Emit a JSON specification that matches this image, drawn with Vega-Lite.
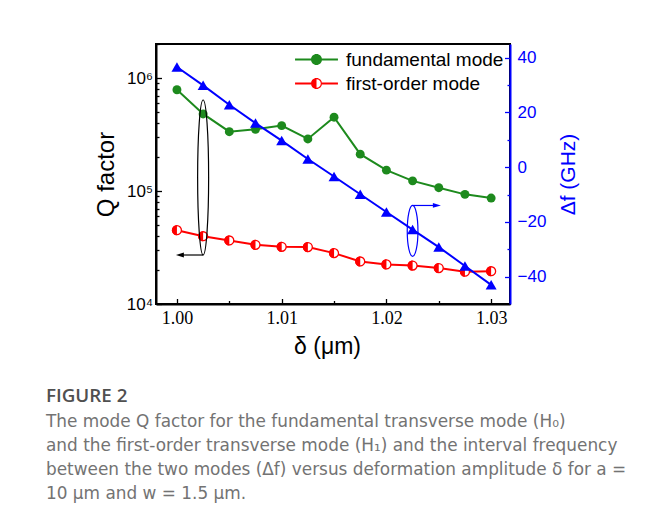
{
  "$schema": "https://vega.github.io/schema/vega-lite/v6.json",
  "width": 354,
  "height": 260,
  "autosize": {"type": "none"},
  "padding": {"left": 156, "top": 44, "right": 144, "bottom": 218},
  "background": "white",
  "config": {
    "view": {"stroke": "black", "strokeWidth": 2},
    "axis": {
      "grid": false,
      "domainWidth": 2,
      "domainColor": "black",
      "tickColor": "black",
      "tickWidth": 1.3,
      "labelFont": "Liberation Sans",
      "titleFont": "Liberation Sans",
      "titleFontWeight": "normal",
      "labelColor": "black",
      "titleColor": "black",
      "labelFlush": false,
      "labelOverlap": false
    }
  },
  "title": {
    "text": "FIGURE 2",
    "subtitle": [
      "The mode Q factor for the fundamental transverse mode (H₀)",
      "and the first-order transverse mode (H₁) and the interval frequency",
      "between the two modes (Δf) versus deformation amplitude δ for a =",
      "10 μm and w = 1.5 μm."
    ],
    "orient": "bottom",
    "anchor": "start",
    "frame": "group",
    "dx": -110,
    "offset": 28,
    "font": "Open Sans",
    "fontSize": 18.8,
    "fontWeight": 600,
    "color": "#505050",
    "subtitleFont": "DejaVu Sans",
    "subtitleFontSize": 16.9,
    "subtitleColor": "#737373",
    "subtitleLineHeight": 24,
    "subtitlePadding": 9
  },
  "datasets": {
    "fundamental": [
      {"delta": 1.0, "q": 787000},
      {"delta": 1.0025, "q": 481000},
      {"delta": 1.005, "q": 335000},
      {"delta": 1.0075, "q": 352000},
      {"delta": 1.01, "q": 379000},
      {"delta": 1.0125, "q": 289000},
      {"delta": 1.015, "q": 450000},
      {"delta": 1.0175, "q": 212000},
      {"delta": 1.02, "q": 153000},
      {"delta": 1.0225, "q": 123000},
      {"delta": 1.025, "q": 107000},
      {"delta": 1.0275, "q": 93400},
      {"delta": 1.03, "q": 86600}
    ],
    "firstOrder": [
      {"delta": 1.0, "q": 45000},
      {"delta": 1.0025, "q": 39800},
      {"delta": 1.005, "q": 36500},
      {"delta": 1.0075, "q": 33400},
      {"delta": 1.01, "q": 32100},
      {"delta": 1.0125, "q": 31900},
      {"delta": 1.015, "q": 28200},
      {"delta": 1.0175, "q": 23800},
      {"delta": 1.02, "q": 22400},
      {"delta": 1.0225, "q": 21900},
      {"delta": 1.025, "q": 20800},
      {"delta": 1.0275, "q": 19300},
      {"delta": 1.03, "q": 19500}
    ],
    "spacing": [
      {"delta": 1.0, "df": 36.6},
      {"delta": 1.0025, "df": 29.9},
      {"delta": 1.005, "df": 22.8},
      {"delta": 1.0075, "df": 16.1},
      {"delta": 1.01, "df": 9.7},
      {"delta": 1.0125, "df": 3.0},
      {"delta": 1.015, "df": -3.4},
      {"delta": 1.0175, "df": -9.9},
      {"delta": 1.02, "df": -16.4},
      {"delta": 1.0225, "df": -22.8},
      {"delta": 1.025, "df": -29.2},
      {"delta": 1.0275, "df": -36.1},
      {"delta": 1.03, "df": -43.0}
    ],
    "seriesKeys": [
      {"series": "fundamental mode"},
      {"series": "first-order mode"}
    ],
    "leftLoop": [{"delta": 1.0025, "q": 131700}],
    "leftArrow": [{"delta": 1.0025, "delta2": 1.0004, "q": 27140}],
    "leftTip": [{"delta": 0.9999, "q": 27140}],
    "rightLoop": [{"delta": 1.0225, "df": -23.3}],
    "rightArrow": [{"delta": 1.0225, "delta2": 1.0245, "df": -14.0}],
    "rightTip": [{"delta": 1.0252, "df": -14.0}]
  },
  "layer": [
    {
      "encoding": {
        "x": {
          "field": "delta", "type": "quantitative",
          "scale": {"domain": [0.998, 1.0318], "nice": false, "zero": false},
          "axis": {
            "orient": "bottom",
            "values": [1.0, 1.01, 1.02, 1.03],
            "format": ".2f",
            "labelFont": "Liberation Serif",
            "labelFontSize": 18,
            "labelPadding": 11,
            "tickSize": -5.5,
            "title": "δ (μm)",
            "titleFontSize": 23,
            "titlePadding": 8,
            "titleX": 171
          }
        },
        "y": {
          "field": "q", "type": "quantitative",
          "scale": {"type": "log", "domain": [10000, 2000000], "nice": false},
          "axis": {
            "orient": "left",
            "values": [10000, 100000, 1000000],
            "labelExpr": "datum.value >= 1000000 ? '10⁶' : datum.value >= 100000 ? '10⁵' : '10⁴'",
            "labelFontSize": 17,
            "labelPadding": 9,
            "tickSize": -5.5,
            "title": "Q factor",
            "titleFontSize": 24,
            "titlePadding": 8
          }
        }
      },
      "layer": [
        {
          "data": {"name": "fundamental"},
          "mark": {"type": "line", "color": "#1d8a1d", "strokeWidth": 2}
        },
        {
          "data": {"name": "fundamental"},
          "mark": {"type": "point", "filled": true, "color": "#1d8a1d", "size": 80, "opacity": 1}
        },
        {
          "data": {"name": "firstOrder"},
          "mark": {"type": "line", "color": "#ff0000", "strokeWidth": 2}
        },
        {
          "data": {"name": "firstOrder"},
          "mark": {"type": "point", "filled": true, "fill": "white", "stroke": "#ff0000", "strokeWidth": 1.3, "size": 80, "opacity": 1}
        },
        {
          "data": {"name": "firstOrder"},
          "mark": {"type": "point", "filled": true, "fill": "#ff0000", "strokeWidth": 0, "size": 102, "opacity": 1, "shape": "M0,-1A1,1,0,0,0,0,1Z"}
        },
        {
          "data": {"name": "leftLoop"},
          "mark": {"type": "point", "filled": false, "stroke": "black", "strokeWidth": 1.2, "opacity": 1, "size": 24025, "shape": "M0,-1A0.071,1,0,1,1,0,1A0.071,1,0,1,1,0,-1Z"}
        },
        {
          "data": {"name": "leftArrow"},
          "mark": {"type": "rule", "color": "black", "strokeWidth": 1.2},
          "encoding": {"x2": {"field": "delta2"}}
        },
        {
          "data": {"name": "leftTip"},
          "mark": {"type": "point", "filled": true, "fill": "black", "strokeWidth": 0, "opacity": 1, "size": 256, "shape": "M0,0L1,-0.3L1,0.3Z"}
        },
        {
          "data": {"name": "seriesKeys"},
          "mark": {"type": "point", "filled": true, "opacity": 0},
          "encoding": {
            "color": {
              "field": "series", "type": "nominal",
              "scale": {"domain": ["fundamental mode", "first-order mode"], "range": ["#1d8a1d", "#ff0000"]},
              "legend": {
                "title": null,
                "orient": "top-right",
                "offset": 6,
                "padding": 0,
                "labelFont": "Liberation Sans",
                "labelFontSize": 19,
                "labelColor": "black",
                "labelOffset": 20,
                "symbolSize": 121,
                "rowPadding": 4,
                "encode": {
                  "symbols": {
                    "update": {
                      "opacity": {"value": 1},
                      "size": {"value": 121},
                      "strokeWidth": {"value": 0}
                    }
                  }
                }
              }
            },
            "shape": {
              "field": "series", "type": "nominal",
              "scale": {
                "domain": ["fundamental mode", "first-order mode"],
                "range": [
                  "M-3.9,-0.18H3.9V0.18H-3.9Z M-1,0A1,1,0,1,1,1,0A1,1,0,1,1,-1,0Z",
                  "M-3.9,-0.18H-1V0.18H-3.9Z M1,-0.18H3.9V0.18H1Z M0,-1A1,1,0,0,0,0,1Z M0,-1A1,1,0,0,1,0,1L0,0.78A0.78,0.78,0,0,0,0,-0.78Z"
                ]
              }
            }
          }
        }
      ]
    },
    {
      "data": {"name": "fundamental"},
      "mark": {"type": "point", "opacity": 0},
      "encoding": {
        "x": {
          "field": "delta", "type": "quantitative",
          "scale": {"domain": [0.998, 1.0318], "nice": false, "zero": false},
          "axis": {
            "orient": "bottom",
            "values": [1.005, 1.015, 1.025],
            "labels": false,
            "domain": false,
            "tickSize": -3.5,
            "title": null
          }
        },
        "y": {
          "field": "q", "type": "quantitative",
          "scale": {"type": "log", "domain": [10000, 2000000], "nice": false},
          "axis": {
            "orient": "left",
            "values": [20000, 30000, 40000, 50000, 60000, 70000, 80000, 90000, 200000, 300000, 400000, 500000, 600000, 700000, 800000, 900000, 2000000],
            "labels": false,
            "domain": false,
            "tickSize": -3,
            "title": null
          }
        }
      }
    },
    {
      "encoding": {
        "x": {"field": "delta", "type": "quantitative", "scale": {"domain": [0.998, 1.0318], "nice": false, "zero": false}, "axis": null},
        "y": {
          "field": "df", "type": "quantitative",
          "scale": {"domain": [-50, 45], "nice": false, "zero": false},
          "axis": {
            "orient": "right",
            "values": [-40, -20, 0, 20, 40],
            "domainColor": "#0000ff",
            "tickColor": "#0000ff",
            "labelColor": "#0000ff",
            "titleColor": "#0000ff",
            "labelFontSize": 17,
            "labelPadding": 12.5,
            "tickSize": -5.5,
            "title": "Δf (GHz)",
            "titleFontSize": 21,
            "titleAngle": 270,
            "titlePadding": 33
          }
        }
      },
      "layer": [
        {
          "data": {"name": "spacing"},
          "mark": {"type": "line", "color": "#0000ff", "strokeWidth": 2}
        },
        {
          "data": {"name": "spacing"},
          "mark": {"type": "point", "shape": "triangle-up", "filled": true, "color": "#0000ff", "size": 120, "opacity": 1}
        },
        {
          "data": {"name": "rightLoop"},
          "mark": {"type": "point", "filled": false, "stroke": "#0000ff", "strokeWidth": 1.2, "opacity": 1, "size": 2601, "shape": "M0,-1A0.21,1,0,1,1,0,1A0.21,1,0,1,1,0,-1Z"}
        },
        {
          "data": {"name": "rightArrow"},
          "mark": {"type": "rule", "color": "#0000ff", "strokeWidth": 1.2},
          "encoding": {"x2": {"field": "delta2"}}
        },
        {
          "data": {"name": "rightTip"},
          "mark": {"type": "point", "filled": true, "fill": "#0000ff", "strokeWidth": 0, "opacity": 1, "size": 256, "shape": "M0,0L-1,-0.3L-1,0.3Z"}
        }
      ]
    },
    {
      "data": {"name": "spacing"},
      "mark": {"type": "point", "opacity": 0},
      "encoding": {
        "x": {"field": "delta", "type": "quantitative", "scale": {"domain": [0.998, 1.0318], "nice": false, "zero": false}, "axis": null},
        "y": {
          "field": "df", "type": "quantitative",
          "scale": {"domain": [-50, 45], "nice": false, "zero": false},
          "axis": {
            "orient": "right",
            "values": [-30, -10, 10, 30],
            "labels": false,
            "domain": false,
            "tickColor": "#0000ff",
            "tickSize": -3,
            "title": null
          }
        }
      }
    }
  ],
  "resolve": {
    "scale": {"y": "independent"},
    "axis": {"x": "independent", "y": "independent"}
  }
}
